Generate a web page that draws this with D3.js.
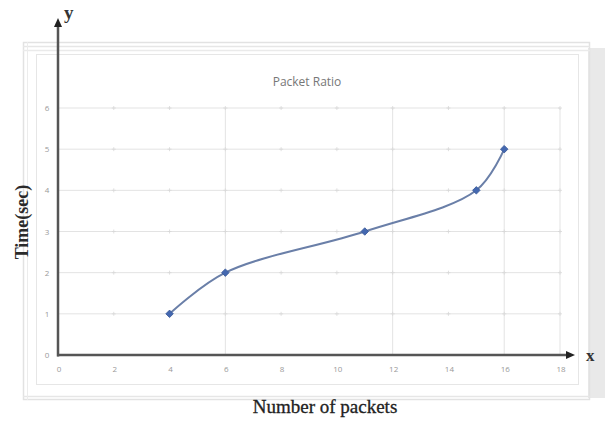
<!DOCTYPE html>
<html><head><meta charset="utf-8">
<script src="https://cdn.jsdelivr.net/npm/d3@7"></script>
<style>html,body{margin:0;padding:0;background:#fff;}svg{display:block;}</style>
</head><body>
<svg id="c" width="605" height="421"></svg>
<script>
const packets = [4, 6, 11, 15, 16];
const times = [1, 2, 3, 4, 5];
const xTicks = [0, 2, 4, 6, 8, 10, 12, 14, 16, 18];
const yTicks = [0, 1, 2, 3, 4, 5, 6];
const xGridVals = [6, 12, 16, 18];
const title = "Packet Ratio";
const xTitle = "Number of packets";
const yTitle = "Time(sec)";

const svg = d3.select("#c");
const x = d3.scaleLinear().domain([0, 18]).range([58, 560]);
const y = d3.scaleLinear().domain([0, 6]).range([355, 108]);

// frame decorations
svg.append("rect").attr("x", 588).attr("y", 48).attr("width", 17).attr("height", 350).attr("fill", "#e9e9e9");
svg.append("rect").attr("x", 23.5).attr("y", 42.5).attr("width", 566).attr("height", 357).attr("fill", "none").attr("stroke", "#e2e2e2").attr("stroke-width", 1.5);
svg.append("line").attr("x1", 23).attr("x2", 590).attr("y1", 46.5).attr("y2", 46.5).attr("stroke", "#e6e6e6").attr("stroke-width", 1.5);
svg.append("line").attr("x1", 23).attr("x2", 590).attr("y1", 50.5).attr("y2", 50.5).attr("stroke", "#eaeaea").attr("stroke-width", 1.5);
svg.append("line").attr("x1", 23).attr("x2", 590).attr("y1", 396.5).attr("y2", 396.5).attr("stroke", "#e6e6e6").attr("stroke-width", 1.5);
svg.append("line").attr("x1", 27.5).attr("x2", 27.5).attr("y1", 42).attr("y2", 400).attr("stroke", "#ececec");
svg.append("rect").attr("x", 36.5).attr("y", 54.5).attr("width", 542).attr("height", 330).attr("fill", "none").attr("stroke", "#e6e6e6");

// gridlines
svg.append("g").selectAll("line").data(yTicks.slice(1)).join("line")
  .attr("x1", x(0)).attr("x2", x(18)).attr("y1", d => y(d)).attr("y2", d => y(d))
  .attr("stroke", "#e3e3e3").attr("stroke-width", 1);
svg.append("g").selectAll("line").data(xGridVals).join("line")
  .attr("x1", d => x(d)).attr("x2", d => x(d)).attr("y1", y(6)).attr("y2", y(0))
  .attr("stroke", "#e3e3e3").attr("stroke-width", 1);
// faint cross marks at intersections
const crosses = [];
xTicks.slice(1).forEach(a => yTicks.slice(1).forEach(b => crosses.push([a, b])));
svg.append("g").selectAll("path").data(crosses).join("path")
  .attr("d", d => `M${x(d[0]) - 2},${y(d[1])}h4M${x(d[0])},${y(d[1]) - 2}v4`)
  .attr("stroke", "#d8d8d8").attr("stroke-width", 0.8);

// tick labels
svg.append("g").selectAll("text").data(xTicks).join("text")
  .attr("x", d => x(d) + 1).attr("y", 372).attr("text-anchor", "middle")
  .attr("font-family", "Open Sans, sans-serif").attr("font-size", 8).attr("fill", "#999").text(d => d);
svg.append("g").selectAll("text").data(yTicks).join("text")
  .attr("x", 47).attr("y", d => y(d) + 3).attr("text-anchor", "middle")
  .attr("font-family", "Open Sans, sans-serif").attr("font-size", 8).attr("fill", "#999").text(d => d);

// title
svg.append("text").attr("x", 307).attr("y", 86).attr("text-anchor", "middle")
  .attr("font-family", "Open Sans, sans-serif").attr("font-size", 12).attr("fill", "#777").text(title);

// axes with arrows
const axisCol = "#555";
svg.append("line").attr("x1", x(0)).attr("x2", x(0)).attr("y1", y(0) + 1.5).attr("y2", 26).attr("stroke", axisCol).attr("stroke-width", 2.5);
svg.append("path").attr("d", `M${x(0)},18 L${x(0) - 4},27 L${x(0) + 4},27 Z`).attr("fill", "#222");
svg.append("line").attr("x1", x(0) - 1).attr("x2", 566).attr("y1", y(0)).attr("y2", y(0)).attr("stroke", axisCol).attr("stroke-width", 2.5);
svg.append("path").attr("d", `M575,${y(0)} L566,${y(0) - 4} L566,${y(0) + 4} Z`).attr("fill", "#222");
svg.append("text").attr("x", 64).attr("y", 19).attr("font-family", "Liberation Serif, serif").attr("font-weight", "bold")
  .attr("font-size", 19).attr("fill", "#333").text("y");
svg.append("text").attr("x", 586).attr("y", 361).attr("font-family", "Liberation Serif, serif").attr("font-weight", "bold")
  .attr("font-size", 17).attr("fill", "#333").text("x");

// axis titles
svg.append("text").attr("x", 325).attr("y", 413).attr("text-anchor", "middle")
  .attr("font-family", "Liberation Serif, serif").attr("font-size", 19).attr("fill", "#222")
  .attr("stroke", "#222").attr("stroke-width", 0.3).text(xTitle);
svg.append("text").attr("transform", "translate(28,222) rotate(-90)").attr("text-anchor", "middle")
  .attr("font-family", "Liberation Serif, serif").attr("font-weight", "bold").attr("font-size", 18).attr("fill", "#2a2a2a").text(yTitle);

// series
const data = packets.map((p, i) => ({ p, t: times[i] }));
const line = d3.line().x(d => x(d.p)).y(d => y(d.t)).curve(d3.curveCatmullRom.alpha(0.5));
svg.append("path").datum(data).attr("d", line).attr("fill", "none")
  .attr("stroke", "#6a7fa8").attr("stroke-width", 2);
svg.append("g").selectAll("path").data(data).join("path")
  .attr("transform", d => `translate(${x(d.p)},${y(d.t)}) rotate(45)`)
  .attr("d", d3.symbol(d3.symbolSquare, 28))
  .attr("fill", "#4468b0").attr("stroke", "#3a5a9a").attr("stroke-width", 0.8);
</script>
</body></html>
